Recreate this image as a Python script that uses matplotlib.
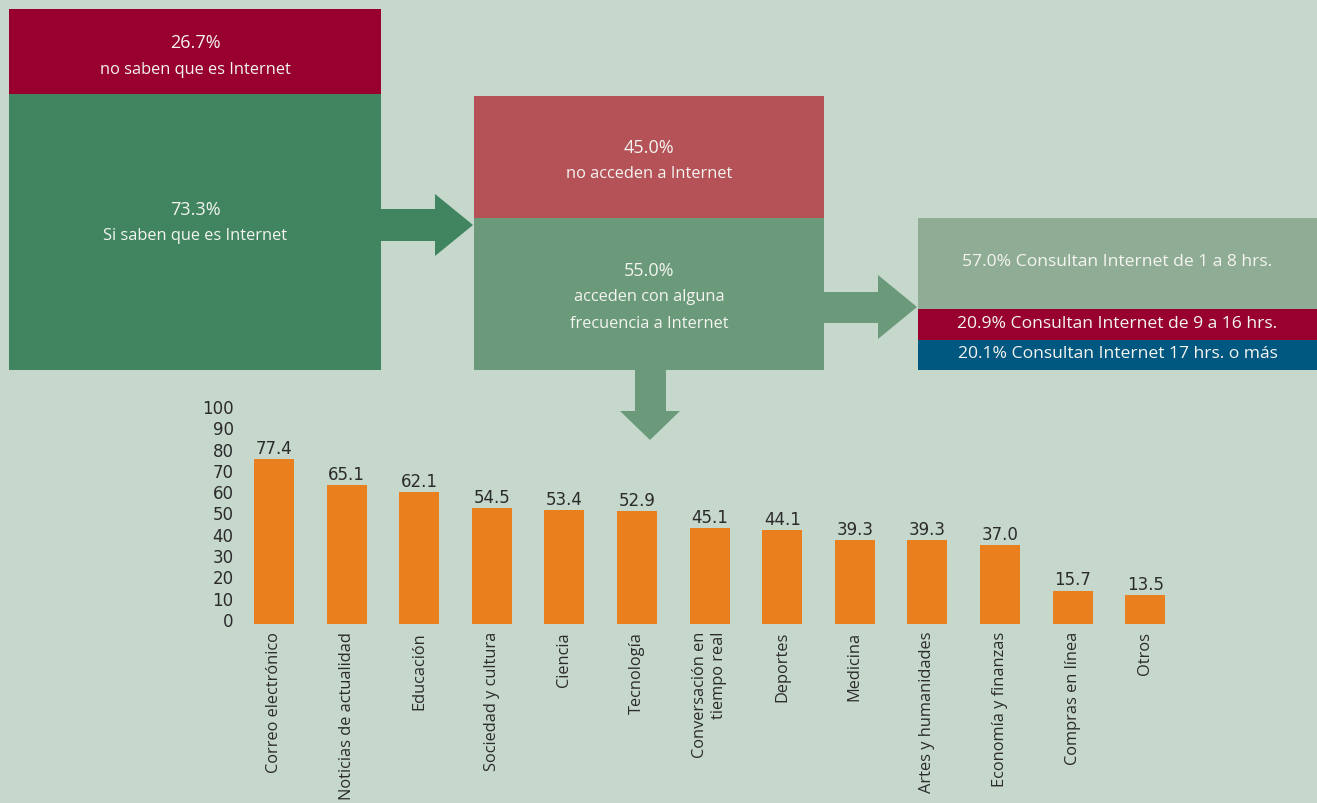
import matplotlib.pyplot as plt
from matplotlib.patches import Rectangle, Polygon
import matplotlib.transforms as mtransforms

# Datos
saben_pct = [26.7, 73.3]
saben_txt = ['no saben que es Internet', 'Si saben que es Internet']
acceso_pct = [45.0, 55.0]
acceso_txt = ['no acceden a Internet', 'acceden con alguna\nfrecuencia a Internet']
horas_pct = [57.0, 20.9, 20.1]
horas_txt = ['Consultan Internet de 1 a 8 hrs.',
             'Consultan Internet de 9 a 16 hrs.',
             'Consultan Internet 17 hrs. o más']
categorias = ['Correo electrónico', 'Noticias de actualidad', 'Educación',
              'Sociedad y cultura', 'Ciencia', 'Tecnología',
              'Conversación en\ntiempo real', 'Deportes', 'Medicina',
              'Artes y humanidades', 'Economía y finanzas', 'Compras en línea', 'Otros']
valores = [77.4, 65.1, 62.1, 54.5, 53.4, 52.9, 45.1, 44.1, 39.3, 39.3, 37.0, 15.7, 13.5]
yticks = [0, 10, 20, 30, 40, 50, 60, 70, 80, 90, 100]

bg = '#c6d7cc'
crimson = '#98002e'
green = '#408560'
mid_red = '#b55257'
mid_green = '#6b9a7b'
light_green = '#8fad95'
blue = '#00577f'
orange = '#ea7f1e'
txt_white = '#f4f4f0'
dark = '#2b2b2b'

W, H = 1317, 804
fig = plt.figure(figsize=(W / 100, H / 100), dpi=100, facecolor=bg)

# capa de cajas y flechas en coordenadas de pixel
ax0 = fig.add_axes([0, 0, 1, 1])
ax0.set_xlim(0, W)
ax0.set_ylim(H, 0)
ax0.axis('off')
ax0.set_facecolor(bg)

font_box = 'Open Sans'


def caja(x0, y0, x1, y1, color, lineas, y_first, size=11.8, pct_size=13, dy=26.5):
    ax0.add_patch(Rectangle((x0, y0), x1 - x0, y1 - y0, color=color, lw=0))
    for i, l in enumerate(lineas):
        s = pct_size if (i == 0 and l.endswith('%')) else size
        ax0.text((x0 + x1) / 2, y_first + i * dy, l, ha='center', va='center',
                 color=txt_white, fontsize=s, family=font_box)


caja(9, 10, 381, 95, crimson, ['%.1f%%' % saben_pct[0], saben_txt[0]], 43)
caja(9, 95, 381, 371, green, ['%.1f%%' % saben_pct[1], saben_txt[1]], 210)
caja(474, 97, 824, 219, mid_red, ['%.1f%%' % acceso_pct[0], acceso_txt[0]], 148)
caja(474, 219, 824, 371, mid_green, ['%.1f%%' % acceso_pct[1]] + acceso_txt[1].split('\n'), 271)
caja(918, 219, 1317, 310, light_green, ['%.1f%% %s' % (horas_pct[0], horas_txt[0])], 262, size=12.6)
caja(918, 310, 1317, 341, crimson, ['%.1f%% %s' % (horas_pct[1], horas_txt[1])], 324, size=12.6)
caja(918, 341, 1317, 371, blue, ['%.1f%% %s' % (horas_pct[2], horas_txt[2])], 354, size=12.6)

# flechas
ax0.add_patch(Polygon([(381, 210), (435, 210), (435, 195), (473, 226),
                       (435, 257), (435, 242), (381, 242)], closed=True, color=green, lw=0))
ax0.add_patch(Polygon([(824, 293), (878, 293), (878, 276), (917, 308),
                       (878, 340), (878, 324), (824, 324)], closed=True, color=mid_green, lw=0))
ax0.add_patch(Polygon([(635, 371), (666, 371), (666, 412), (680, 412), (650, 441),
                       (620, 412), (635, 412)], closed=True, color=mid_green, lw=0))

# grafica de barras
x_left, x_right = 237.7, 1181.5
y_bot, y_top = 625, 412
ax = fig.add_axes([x_left / W, (H - y_bot) / H, (x_right - x_left) / W, (y_bot - y_top) / H])
ax.patch.set_alpha(0)
xs = list(range(len(categorias)))
ax.bar(xs, valores, width=0.55, color=orange)
ax.set_xlim(-0.5, len(categorias) - 0.5)
ax.set_ylim(0, 100)
for s in ax.spines.values():
    s.set_visible(False)
ax.set_yticks(yticks)
ax.set_yticklabels([str(t) for t in yticks], fontsize=12, color=dark)
ax.tick_params(axis='y', length=0, pad=3)
ax.tick_params(axis='x', length=0, pad=5)
ax.set_xticks(xs)
ax.set_xticklabels(categorias, rotation=90, fontsize=11.8, color=dark,
                   family=font_box, va='top', ha='center', multialignment='right')
off = mtransforms.ScaledTranslation(0, 5 / 100, fig.dpi_scale_trans)
for lbl in ax.get_yticklabels():
    lbl.set_transform(lbl.get_transform() + off)
for x, v in zip(xs, valores):
    ax.annotate('%.1f' % v, (x, v), xytext=(0, 1.5), textcoords='offset points',
                ha='center', va='bottom', fontsize=12, color=dark)

fig.savefig('out.png', dpi=100, facecolor=bg)
